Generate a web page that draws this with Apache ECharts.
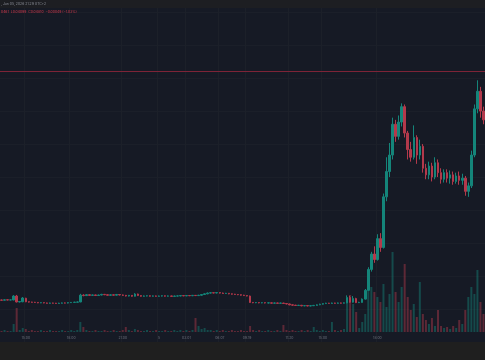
<!DOCTYPE html>
<html><head><meta charset="utf-8">
<script src="https://cdn.jsdelivr.net/npm/echarts@6/dist/echarts.min.js"></script>
<style>html,body{margin:0;padding:0;background:#161a25;}#c{width:485px;height:360px;}</style>
</head><body><div id="c"></div>
<script>
// Tick labels on the time axis and the candle index each one sits on
const tickLabels = ['15:00','18:00','21:00','5','03:01','06:07','09:19','11:20','15:00','18:00'];
const tickIndex  = [8,23,40,52,61,72,81,95,106,124];
// Candles: [open, close, low, high] (price in 1e-4 units)
const ohlc = [
[308.2,308.0,307.6,308.6],[308.0,308.4,307.8,308.8],[308.4,308.2,307.9,308.7],[308.2,308.3,307.9,308.7],
[308.2,311.8,308.0,312.6],[311.8,306.4,306.0,312.8],[306.4,306.8,306.0,307.3],[306.6,310.0,306.2,310.9],
[309.8,306.6,306.2,310.2],[306.6,306.3,305.9,306.9],[306.3,306.1,305.8,306.6],[306.1,306.0,305.7,306.5],
[306.0,305.6,305.3,306.3],[305.6,305.8,305.3,306.1],[305.8,305.5,305.2,306.0],[305.5,305.2,304.9,305.8],
[305.2,305.4,304.9,305.8],[305.4,305.3,305.0,305.7],[305.3,305.0,304.7,305.6],[305.0,305.3,304.8,305.7],
[305.3,305.5,305.0,305.9],[305.5,305.4,305.1,305.9],[305.4,305.8,305.1,306.2],[305.8,306.0,305.5,306.4],
[306.0,306.2,305.7,306.6],[306.2,306.4,305.9,306.8],[306.4,312.6,306.2,313.8],[312.6,312.2,311.6,313.4],
[312.2,313.0,311.8,313.6],[313.0,312.4,311.9,313.3],[312.4,312.8,312.0,313.2],[312.8,312.3,311.8,313.1],
[312.3,312.7,311.9,313.1],[312.7,313.3,312.4,313.8],[313.3,313.0,312.6,313.7],[313.0,312.5,312.1,313.4],
[312.5,312.9,312.1,313.4],[312.9,312.6,312.2,313.3],[312.6,313.2,312.2,313.7],[313.2,312.8,312.3,313.6],
[312.8,312.4,311.9,313.2],[312.4,311.8,311.4,312.8],[311.8,312.4,311.4,312.8],[312.4,311.6,311.2,312.7],
[311.6,313.6,311.4,314.4],[313.6,312.2,311.8,314.0],[312.2,311.6,311.2,312.6],[311.6,311.9,311.2,312.3],
[311.9,312.0,311.5,312.4],[312.0,311.7,311.3,312.4],[311.7,311.9,311.3,312.3],[311.9,311.6,311.2,312.2],
[311.6,311.8,311.2,312.2],[311.8,312.0,311.4,312.4],[312.0,311.7,311.3,312.3],[311.7,311.9,311.3,312.3],
[311.9,311.5,311.1,312.2],[311.5,311.8,311.1,312.2],[311.8,311.9,311.4,312.3],[311.9,312.2,311.5,312.6],
[312.2,312.0,311.6,312.5],[312.0,312.3,311.6,312.7],[312.3,312.1,311.7,312.6],[312.1,312.4,311.7,312.8],
[312.4,312.2,311.8,312.7],[312.2,312.5,311.8,312.9],[312.5,313.2,312.1,313.6],[313.2,313.8,312.9,314.2],
[313.8,314.5,313.4,315.0],[314.5,314.8,314.1,315.2],[314.8,314.6,314.2,315.1],[314.6,314.9,314.2,315.3],
[314.9,314.5,314.1,315.2],[314.5,314.1,313.7,314.9],[314.1,314.3,313.8,314.7],[314.3,313.8,313.4,314.6],
[313.8,313.5,313.1,314.1],[313.5,313.2,312.8,313.8],[313.2,313.0,312.6,313.5],[313.0,312.6,312.2,313.3],
[312.6,312.2,311.8,312.9],[312.2,311.8,311.5,312.5],[311.8,306.0,305.6,312.2],[306.0,305.7,305.3,306.4],
[305.7,305.9,305.3,306.3],[305.9,305.6,305.2,306.2],[305.6,305.8,305.2,306.2],[305.8,305.5,305.1,306.1],
[305.5,305.6,305.1,306.0],[305.6,305.3,304.9,305.9],[305.3,305.5,304.9,305.9],[305.5,305.2,304.8,305.8],
[305.2,305.4,304.9,305.8],[305.4,305.0,304.6,305.7],[305.0,304.6,304.2,305.3],[304.6,303.8,303.4,304.9],
[303.8,303.5,303.0,304.1],[303.5,303.2,302.8,303.8],[303.2,303.4,302.8,303.8],[303.4,302.9,302.5,303.7],
[302.9,303.1,302.5,303.5],[303.1,302.8,302.4,303.4],[302.8,303.0,302.4,303.4],[303.0,303.3,302.7,303.7],
[303.3,303.8,303.0,304.2],[303.8,304.4,303.5,304.8],[304.4,304.9,304.0,305.3],[304.9,305.3,304.6,305.7],
[305.3,305.1,304.8,305.6],[305.1,305.4,304.8,305.8],[305.4,305.2,304.8,305.7],[305.2,305.5,304.9,305.9],
[305.5,305.3,304.9,305.8],[305.3,305.6,305.0,306.0],[305.6,310.5,305.2,312.4],[310.5,306.2,305.8,312.0],
[306.2,309.5,305.8,311.8],[309.5,305.8,305.4,310.2],[305.8,306.0,305.4,306.6],[306.0,309.0,305.8,309.6],
[309.0,317.0,308.6,318.2],[317.0,336.0,316.5,338.0],[336.0,350.0,334.0,352.0],[350.0,345.0,342.0,357.0],
[345.0,364.0,344.0,368.0],[364.0,356.0,352.0,369.0],[356.0,402.0,355.0,405.0],[402.0,425.0,398.0,438.0],
[425.0,440.0,420.0,451.0],[440.0,468.0,436.0,474.0],[468.0,457.0,452.0,472.0],[457.0,470.0,454.0,476.0],
[470.0,484.0,466.0,487.0],[484.0,460.0,456.0,486.0],[460.0,445.0,436.0,462.0],[445.0,438.0,434.0,452.0],
[438.0,456.0,436.0,467.0],[456.0,440.0,432.0,458.0],[440.0,448.0,436.0,454.0],[448.0,428.0,424.0,450.0],
[428.0,422.0,418.0,432.0],[422.0,430.0,418.0,434.0],[430.0,420.0,416.0,433.0],[420.0,433.0,418.0,438.0],
[433.0,424.0,420.0,436.0],[424.0,418.0,414.0,428.0],[418.0,424.0,415.0,427.0],[424.0,419.0,415.0,427.0],
[419.0,422.0,414.0,426.0],[422.0,416.0,413.0,425.0],[416.0,421.0,414.0,424.0],[421.0,417.0,413.0,425.0],
[417.0,419.0,413.0,423.0],[419.0,407.0,403.0,421.0],[407.0,412.0,402.0,415.0],[412.0,440.0,410.0,444.0],
[440.0,482.0,438.0,486.0],[482.0,498.0,478.0,508.0],[498.0,480.0,474.0,502.0],[480.0,472.0,468.0,484.0]
];
// Volume per candle
const volume = [
1,2,1,1,8,24,2,4,3,1, 2,1,1,2,1,1,2,1,1,1, 2,1,1,2,1,2,10,5,2,1,
1,2,1,1,2,1,1,2,1,1, 2,5,2,1,3,2,1,1,2,1, 1,2,1,1,2,1,1,2,1,2, 1,2,1,2,14,6,3,4,2,2,
1,2,1,2,1,1,2,1,1,2, 1,1,6,2,1,2,1,1,2,1, 1,2,1,7,2,1,2,1,1,2, 1,2,1,5,2,1,2,1,1,10,
2,1,2,3,31,37,28,20,4,10, 18,55,45,40,35,30,48,25,38,80, 40,30,45,68,35,22,28,15,50,18,
12,8,14,6,22,6,4,5,3,6, 4,12,8,22,35,45,38,62,30,18
];
const refPrice = 516;
const header1 = ', Jun 05, 2026 21:29 UTC+2';
const header2 = '0461  L0.04099  C0.04810  \u22120.00049 (\u22121.03%)';

const cats = ohlc.map((d, i) => String(i));
const labelAt = {};
tickIndex.forEach((idx, k) => { labelAt[String(idx)] = tickLabels[k]; });
const UP = '#14857a', DOWN = '#b3394b';
const volData = volume.map((v, i) => ({
  value: v,
  itemStyle: { color: ohlc[i][1] >= ohlc[i][0] ? 'rgba(20,133,122,0.45)' : 'rgba(179,57,75,0.45)' }
}));

const chart = echarts.init(document.getElementById('c'), null, { renderer: 'canvas' });
chart.setOption({
  backgroundColor: '#161a25',
  animation: false,
  grid: [
    { left: 0, right: 0, top: 0, bottom: 18 },
    { left: 0, right: 0, top: 232, bottom: 28 }
  ],
  xAxis: [
    { type: 'category', gridIndex: 0, data: cats, boundaryGap: true,
      axisLine: { show: false }, axisTick: { show: false }, axisLabel: { show: false },
      splitLine: { show: true, interval: (i, v) => labelAt[v] !== undefined, lineStyle: { color: '#1c2029', width: 1 } } },
    { type: 'category', gridIndex: 1, data: cats, boundaryGap: true,
      axisLine: { show: false }, axisTick: { show: false }, splitLine: { show: false },
      axisLabel: { show: true, interval: (i, v) => labelAt[v] !== undefined,
        formatter: v => labelAt[v] || '', color: '#6c707b', fontSize: 3.4, margin: 4,
        fontFamily: 'Inter, sans-serif' } }
  ],
  yAxis: [
    { type: 'value', gridIndex: 0, min: 270, max: 581, interval: 30,
      axisLine: { show: false }, axisTick: { show: false }, axisLabel: { show: false },
      splitLine: { show: true, lineStyle: { color: '#1b1f29', width: 1 } } },
    { type: 'value', gridIndex: 1, min: 0, max: 100,
      axisLine: { show: false }, axisTick: { show: false }, axisLabel: { show: false },
      splitLine: { show: false } }
  ],
  series: [
    { type: 'bar', xAxisIndex: 1, yAxisIndex: 1, data: volData, barWidth: 2, z: 1 },
    { type: 'line', xAxisIndex: 0, yAxisIndex: 0, data: [], color: '#7d2437', z: 2,
      markLine: { silent: true, symbol: ['none', 'none'], label: { show: false },
        lineStyle: { color: '#7d2437', type: 'solid', width: 1 },
        data: [{ yAxis: refPrice }] } },
    { type: 'candlestick', xAxisIndex: 0, yAxisIndex: 0, data: ohlc, barWidth: 2, z: 3,
      itemStyle: { color: UP, color0: DOWN, borderColor: UP, borderColor0: DOWN, borderWidth: 1 } }
  ],
  graphic: [
    { type: 'rect', left: 0, top: 342, shape: { width: 485, height: 18 }, style: { fill: '#1f1f1f' }, z: 10 },
    { type: 'rect', left: 0, top: 0, shape: { width: 485, height: 8 }, style: { fill: '#1d1e22' }, z: 10 },
    { type: 'text', left: 1, top: 2, z: 11, style: { text: header1, fill: '#8a8d96', fontSize: 3.4, fontFamily: 'Inter, sans-serif' } },
    { type: 'text', left: 1, top: 10, z: 11, style: { text: header2, fill: '#d1394c', fontSize: 3.4, fontFamily: 'Inter, sans-serif' } }
  ]
});
</script>
</body></html>
